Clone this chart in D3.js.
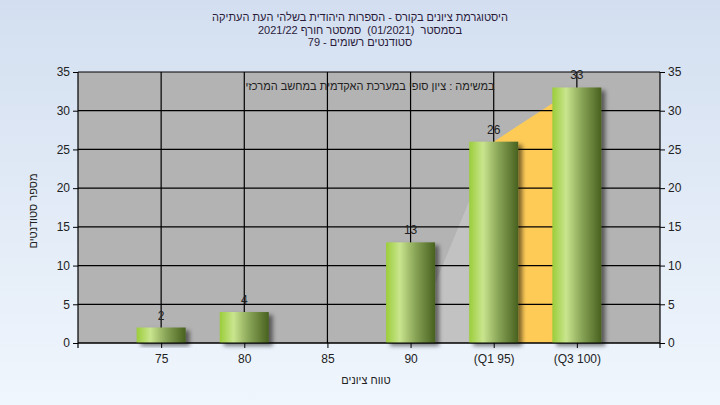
<!DOCTYPE html>
<html><head><meta charset="utf-8">
<script src="https://cdn.jsdelivr.net/npm/d3@7"></script>
<style>
html,body{margin:0;padding:0;}
body{width:720px;height:405px;overflow:hidden;font-family:"Liberation Sans",Arial,sans-serif;}
</style></head>
<body>
<svg id="c" width="720" height="405"></svg>
<script>
const categories = ["75","80","85","90","(Q1 95)","(Q3 100)"];
const counts = [2,4,0,13,26,33];
const lowerQuartileCats = ["90","(Q1 95)"];
const lowerQuartileVals = [0,26];
const upperQuartileCats = ["(Q1 95)","(Q3 100)"];
const upperQuartileVals = [26,33];
const yTicks = [0,5,10,15,20,25,30,35];
const titleLines = ["היסטוגרמת ציונים בקורס - הספרות היהודית בשלהי העת העתיקה","בסמסטר  (01/2021)  סמסטר חורף 2021/22","סטודנטים רשומים - 79"];
const noteText = "במשימה : ציון סופי במערכת האקדמית במחשב המרכזי";
const yTitle = "מספר סטודנטים";
const xTitle = "טווח ציונים";

const svg = d3.select("#c");
const defs = svg.append("defs");
const bg = defs.append("linearGradient").attr("id","bg").attr("x1",0).attr("y1",0).attr("x2",0).attr("y2",1);
bg.append("stop").attr("offset","0%").attr("stop-color","#d3dff0");
bg.append("stop").attr("offset","100%").attr("stop-color","#f0f6fd");
const bar = defs.append("linearGradient").attr("id","bar").attr("x1",0).attr("y1",0).attr("x2",1).attr("y2",0);
bar.append("stop").attr("offset","0%").attr("stop-color","#9bcd3a");
bar.append("stop").attr("offset","28%").attr("stop-color","#c9e58e");
bar.append("stop").attr("offset","60%").attr("stop-color","#88a456");
bar.append("stop").attr("offset","100%").attr("stop-color","#48611f");
const f = defs.append("filter").attr("id","sh").attr("x","-20%").attr("y","-20%").attr("width","150%").attr("height","150%");
f.append("feDropShadow").attr("dx",4).attr("dy",3).attr("stdDeviation",2).attr("flood-color","#000").attr("flood-opacity",0.5);

svg.append("rect").attr("width",720).attr("height",405).attr("fill","url(#bg)");

const L=78,R=660,T=72,B=343;
const x = d3.scalePoint().domain(categories).range([L,R]).padding(1);
const y = d3.scaleLinear().domain([0,35]).range([B,T]);
const bw = 49;

svg.append("rect").attr("x",L).attr("y",T).attr("width",R-L).attr("height",B-T).attr("fill","#b3b3b3");

const area = d3.area().x(d=>x(d[0])).y0(y(0)).y1(d=>y(d[1]));
svg.append("path").datum(d3.zip(lowerQuartileCats,lowerQuartileVals)).attr("d",area).attr("fill","#c2c2c2");
svg.append("path").datum(d3.zip(upperQuartileCats,upperQuartileVals)).attr("d",area).attr("fill","#fecb57");

const g = svg.append("g").attr("stroke","#000").attr("stroke-width",1.2);
yTicks.forEach(t=>{ g.append("line").attr("x1",L).attr("x2",R).attr("y1",y(t)).attr("y2",y(t)); });
categories.forEach(c=>{ g.append("line").attr("x1",x(c)).attr("x2",x(c)).attr("y1",T).attr("y2",B); });

const rows = counts.map((v,i)=>({c:categories[i],v}));
svg.append("g").selectAll("rect").data(rows.filter(d=>d.v>0)).join("rect")
  .attr("x",d=>x(d.c)-bw/2).attr("y",d=>y(d.v)).attr("width",bw).attr("height",d=>y(0)-y(d.v))
  .attr("fill","url(#bar)").attr("filter","url(#sh)");

svg.append("g").selectAll("text").data(rows.filter(d=>d.v>0)).join("text")
  .attr("x",d=>x(d.c)).attr("y",d=>y(d.v)-8).attr("text-anchor","middle")
  .attr("font-size",12).attr("fill","#222").text(d=>d.v);

const axL = svg.append("g").attr("transform",`translate(${L},0)`).call(d3.axisLeft(y).tickValues(yTicks).tickSize(5).tickPadding(3));
const axR = svg.append("g").attr("transform",`translate(${R},0)`).call(d3.axisRight(y).tickValues(yTicks).tickSize(5).tickPadding(3));
const axB = svg.append("g").attr("transform",`translate(0,${B})`).call(d3.axisBottom(x).tickSize(5).tickPadding(6));
[axL,axR,axB].forEach(a=>{
  a.select(".domain").attr("stroke","#000").attr("stroke-width",1.2);
  a.selectAll(".tick line").attr("stroke","#000");
  a.selectAll("text").attr("font-size",12).attr("fill","#222").attr("font-family","Liberation Sans, Arial, sans-serif");
});
axB.select(".domain").attr("d",`M${L},0H${R}`);
axL.select(".domain").attr("d",`M0,${T}V${B+5}`);
axR.select(".domain").attr("d",`M0,${T}V${B+5}`);

svg.append("g").selectAll("text").data(titleLines).join("text")
  .attr("x",360).attr("y",(d,i)=>21+i*12.5).attr("text-anchor","middle").attr("font-size",11)
  .style("white-space","pre").attr("xml:space","preserve")
  .attr("fill","#2a1a3a").attr("direction","rtl").attr("unicode-bidi","plaintext").text(d=>d);
svg.append("text").attr("x",370).attr("y",90).attr("text-anchor","middle").attr("font-size",11)
  .attr("fill","#222").attr("direction","rtl").text(noteText);
svg.append("text").attr("transform","translate(37,211) rotate(-90)").attr("text-anchor","middle")
  .attr("font-size",11).attr("fill","#222").attr("direction","rtl").text(yTitle);
svg.append("text").attr("x",366).attr("y",384).attr("text-anchor","middle").attr("font-size",11)
  .attr("fill","#222").attr("direction","rtl").text(xTitle);
</script>
</body></html>
